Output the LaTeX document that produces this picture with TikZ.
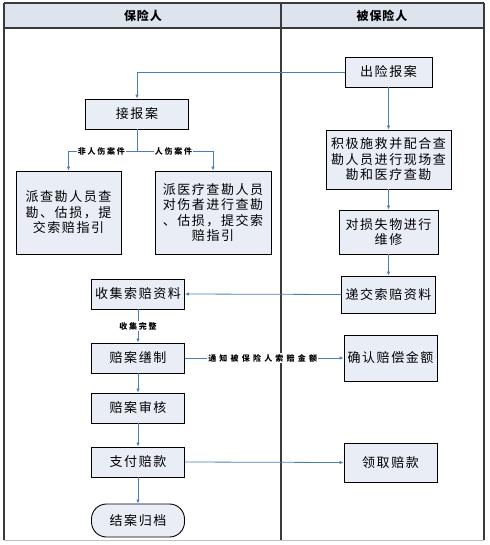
\documentclass[tikz,border=0pt]{standalone}
\usepackage{fontspec}
\usetikzlibrary{arrows.meta}
\newfontfamily\cjk[LetterSpace=12]{Noto Sans CJK SC}
\newfontfamily\cjkh[LetterSpace=8]{Noto Sans CJK SC}
\newfontfamily\cjkl[LetterSpace=22]{Noto Sans CJK SC}
\newfontfamily\cjkm[LetterSpace=40]{Noto Sans CJK SC}
\definecolor{boxfill}{HTML}{E8EDF6}
\definecolor{headfill}{HTML}{DDE4EE}
\definecolor{arrcol}{HTML}{4A7EBB}
\definecolor{framecol}{HTML}{3A3A3A}
\tikzset{
  box/.style={draw=black, line width=0.9pt, fill=boxfill, inner sep=1pt,
    font=\cjk\fontsize{13}{15.5}\selectfont, align=center},
  endbox/.style={box, rounded corners=15pt},
  arr/.style={draw=arrcol, line width=0.8pt, -{Latex[length=4pt,width=3.5pt]}},
  plain/.style={draw=arrcol, line width=0.8pt},
  lab/.style={fill=white, inner sep=1pt, font=\cjkl\bfseries\fontsize{8}{9}\selectfont},
  labwide/.style={lab, font=\cjkm\bfseries\fontsize{8}{9}\selectfont},
  head/.style={font=\cjkh\bfseries\fontsize{12}{14}\selectfont},
  frame/.style={draw=framecol, line width=1.1pt}
}
\begin{document}
\begin{tikzpicture}[x=1pt, y=-1pt]
\useasboundingbox (0,0) rectangle (489,545);
% header and lanes
\fill[headfill] (4,3) rectangle (484,28);
\draw[frame] (4,3) -- (484,3);
\draw[frame] (4,28) -- (484,28);
\draw[frame] (4,3) -- (4,540);
\draw[frame] (281,3) -- (281,540);
\draw[frame] (484,3) -- (484,540);
\draw[draw=black!25, line width=0.6pt] (4,540) -- (484,540);
\node[head] (h1) at (143,15.5) {保险人};
\node[head] (h2) at (382,15.5) {被保险人};
% boxes
\node[box, minimum width=87pt, minimum height=30pt] (chuxian) at (388.5,72) {出险报案};
\node[box, minimum width=103pt, minimum height=30pt] (jiebao) at (137,114) {接报案};
\node[box, minimum width=125pt, minimum height=59pt] (jiji) at (388.5,159.5) {积极施救并配合查\\勘人员进行现场查\\勘和医疗查勘};
\node[box, minimum width=105pt, minimum height=83pt] (pai1) at (68.5,212.5) {派查勘人员查\\勘、估损，提\\交索赔指引};
\node[box, minimum width=116pt, minimum height=83pt] (pai2) at (213,212.5) {派医疗查勘人员\\对伤者进行查勘\\、估损，提交索\\赔指引};
\node[box, minimum width=99pt, minimum height=44pt] (weixiu) at (388.5,232) {对损失物进行\\维修};
\node[box, minimum width=94pt, minimum height=37pt] (dijiao) at (388.5,294.5) {递交索赔资料};
\node[box, minimum width=93pt, minimum height=30pt] (shouji) at (138,294) {收集索赔资料};
\node[box, minimum width=93pt, minimum height=30pt] (zhizuo) at (138,358) {赔案缮制};
\node[box, minimum width=93pt, minimum height=46pt] (queren) at (390.5,358) {确认赔偿金额};
\node[box, minimum width=93pt, minimum height=30pt] (shenhe) at (138,408) {赔案审核};
\node[box, minimum width=93pt, minimum height=30pt] (zhifu) at (138,462) {支付赔款};
\node[box, minimum width=93pt, minimum height=39pt] (lingqu) at (390.5,462.5) {领取赔款};
\node[endbox, minimum width=93pt, minimum height=33pt] (jiean) at (138,520.5) {结案归档};
% connectors
\draw[arr] (chuxian.west) -| (jiebao.north);
\draw[arr] (chuxian.south) -- (jiji.north);
\coordinate (br) at (137,151);
\draw[plain] (jiebao.south) -- (br);
\draw[arr] (br) -| node[lab, pos=0.26] {非人伤案件} (pai1.north);
\draw[arr] (br) -| node[lab, pos=0.24] {人伤案件} (pai2.north);
\draw[arr] (jiji.south) -- (weixiu.north);
\draw[arr] (weixiu.south) -- (dijiao.north);
\draw[arr] (dijiao.west) -- (shouji.east);
\draw[arr] (shouji.south) -- node[lab] {收集完整} (zhizuo.north);
\draw[arr] (zhizuo.east) -- node[labwide, pos=0.49] {通知被保险人索赔金额} (queren.west);
\draw[arr] (zhizuo.south) -- (shenhe.north);
\draw[arr] (shenhe.south) -- (zhifu.north);
\draw[arr] (zhifu.east) -- (lingqu.west);
\draw[arr] (zhifu.south) -- (jiean.north);
\end{tikzpicture}
\end{document}
